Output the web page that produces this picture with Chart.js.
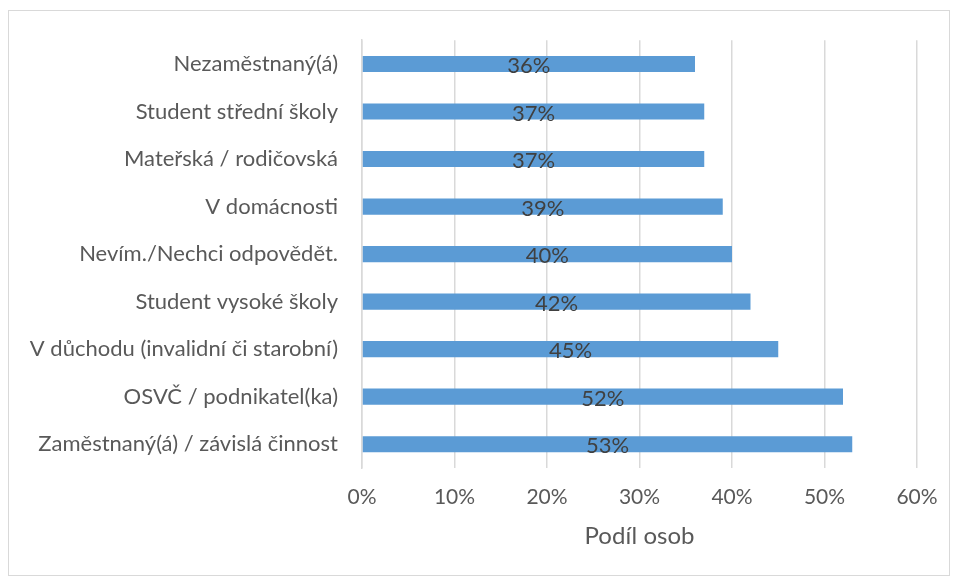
<!DOCTYPE html>
<html>
<head>
<meta charset="utf-8">
<script src="https://cdn.jsdelivr.net/npm/chart.js@4"></script>
<style>
  body { margin: 0; background: #fff; }
  #frame {
    position: absolute; left: 8px; top: 10px;
    width: 940px; height: 564px;
    border: 1px solid #d9d9d9;
  }
</style>
</head>
<body>
<div id="frame"><canvas id="chart" width="940" height="564"></canvas></div>
<script>
// Data
const categories = [
    'Nezaměstnaný(á)',
    'Student střední školy',
    'Mateřská / rodičovská',
    'V domácnosti',
    'Nevím./Nechci odpovědět.',
    'Student vysoké školy',
    'V důchodu (invalidní či starobní)',
    'OSVČ / podnikatel(ka)',
    'Zaměstnaný(á) / závislá činnost'
];
const shares = [36, 37, 37, 39, 40, 42, 45, 52, 53];
const axisMax = 60;
const axisStep = 10;
const axisTitle = 'Podíl osob';

const FONT = "Lato, 'Open Sans', sans-serif";
Chart.defaults.font.family = FONT;
Chart.defaults.color = '#595959';

// Labels in the middle of each bar
const barLabels = {
    id: 'barLabels',
    afterDatasetsDraw(chart) {
        const ctx = chart.ctx;
        const meta = chart.getDatasetMeta(0);
        ctx.save();
        ctx.font = '22px ' + FONT;
        ctx.fillStyle = '#404040';
        ctx.textAlign = 'center';
        ctx.textBaseline = 'middle';
        meta.data.forEach((bar, i) => {
            const x = (bar.base + bar.x) / 2;
            ctx.fillText(shares[i] + '%', x, bar.y + 2);
        });
        ctx.restore();
    }
};

new Chart(document.getElementById('chart').getContext('2d'), {
    type: 'bar',
    data: {
        labels: categories,
        datasets: [{
            data: shares,
            backgroundColor: '#5b9bd5',
            categoryPercentage: 1,
            barPercentage: 0.34
        }]
    },
    options: {
        indexAxis: 'y',
        responsive: false,
        animation: false,
        layout: { padding: { top: 24, right: 32, bottom: 20, left: 0 } },
        plugins: {
            legend: { display: false },
            tooltip: { enabled: false }
        },
        scales: {
            x: {
                min: 0,
                max: axisMax,
                ticks: {
                    stepSize: axisStep,
                    padding: 17,
                    font: { size: 21 },
                    callback: v => v + '%'
                },
                grid: { color: '#d9d9d9', lineWidth: 1.5, drawTicks: false },
                border: { display: false },
                title: {
                    display: true,
                    text: axisTitle,
                    font: { size: 24 },
                    padding: { top: 10, bottom: 4 }
                },
                afterFit(axis) {
                    axis.height = 87;
                    axis.paddingRight = 0;
                }
            },
            y: {
                ticks: { padding: 16, font: { size: 22 } },
                grid: { display: false },
                border: { display: true, color: '#d9d9d9', width: 1.5 },
                afterFit(axis) { axis.width = 353; }
            }
        }
    },
    plugins: [barLabels]
});
</script>
</body>
</html>
